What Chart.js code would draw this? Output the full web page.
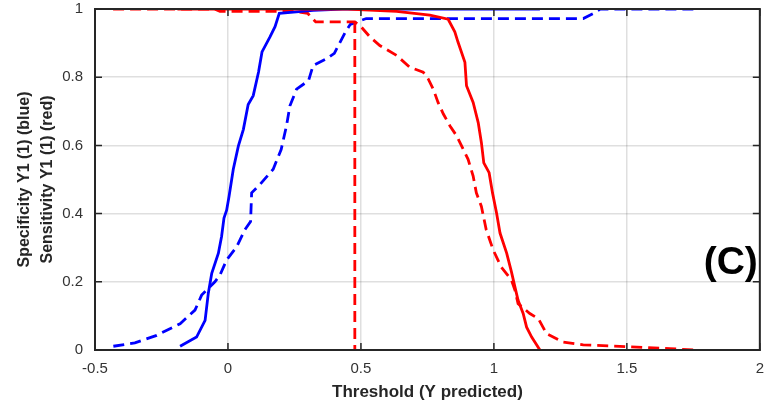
<!DOCTYPE html>
<html>
<head>
<meta charset="utf-8">
<script src="https://cdn.jsdelivr.net/npm/chart.js@4"></script>
<style>
  html, body { margin: 0; padding: 0; background: #fff; }
  #wrap { width: 774px; height: 412px; }
</style>
</head>
<body>
<div id="wrap"><canvas id="chart"></canvas></div>
<script>
// specificity (blue), solid model
const blueSolidX = [-0.18, -0.118, -0.086, -0.074, -0.061, -0.036, -0.024, -0.015, -0.005, 0.004, 0.014, 0.02, 0.039, 0.058, 0.076, 0.095, 0.115, 0.128, 0.158, 0.177, 0.193, 0.32, 0.43, 1.173];
const blueSolidY = [0.011, 0.038, 0.087, 0.166, 0.225, 0.284, 0.333, 0.387, 0.41, 0.45, 0.5, 0.53, 0.598, 0.647, 0.72, 0.746, 0.815, 0.874, 0.918, 0.948, 0.987, 0.996, 1, 1];
// specificity (blue), dashed model
const blueDashX = [-0.431, -0.35, -0.268, -0.18, -0.124, -0.099, -0.049, -0.03, -0.005, 0.033, 0.064, 0.085, 0.089, 0.12, 0.17, 0.2, 0.22, 0.233, 0.258, 0.303, 0.32, 0.37, 0.40, 0.44, 0.46, 0.52, 1.336, 1.374, 1.40, 1.75];
const blueDashY = [0.011, 0.021, 0.043, 0.077, 0.117, 0.161, 0.2, 0.22, 0.264, 0.303, 0.353, 0.377, 0.461, 0.485, 0.53, 0.588, 0.657, 0.716, 0.765, 0.79, 0.834, 0.854, 0.87, 0.93, 0.955, 0.972, 0.972, 0.987, 1, 1];
// sensitivity (red), solid model
const redSolidX = [-0.19, 0.45, 0.634, 0.759, 0.828, 0.853, 0.865, 0.891, 0.897, 0.922, 0.941, 0.953, 0.962, 0.982, 0.995, 1.01, 1.023, 1.048, 1.066, 1.079, 1.091, 1.11, 1.123, 1.142, 1.173];
const redSolidY = [1, 1, 0.993, 0.982, 0.970, 0.933, 0.903, 0.844, 0.775, 0.726, 0.667, 0.608, 0.549, 0.52, 0.46, 0.402, 0.343, 0.284, 0.229, 0.185, 0.146, 0.107, 0.067, 0.038, 0];
// sensitivity (red), dashed model
const redDashX = [-0.432, -0.05, -0.03, 0.25, 0.30, 0.33, 0.477, 0.496, 0.534, 0.571, 0.634, 0.684, 0.734, 0.753, 0.772, 0.79, 0.81, 0.835, 0.86, 0.885, 0.903, 0.922, 0.934, 0.953, 0.971, 0.997, 1.027, 1.066, 1.079, 1.091, 1.135, 1.167, 1.198, 1.26, 1.336, 1.5, 1.662, 1.75];
const redDashY = [1, 1, 0.993, 0.993, 0.987, 0.962, 0.962, 0.952, 0.918, 0.893, 0.864, 0.829, 0.815, 0.795, 0.765, 0.726, 0.692, 0.657, 0.628, 0.588, 0.559, 0.51, 0.461, 0.421, 0.353, 0.294, 0.244, 0.205, 0.176, 0.136, 0.107, 0.092, 0.048, 0.023, 0.015, 0.01, 0.004, 0];
// vertical threshold marker
const cutoffX = [0.477, 0.477];
const cutoffY = [0.962, 0];

const xTicks = [-0.5, 0, 0.5, 1, 1.5, 2];
const yTicks = [0, 0.2, 0.4, 0.6, 0.8, 1];

const pts = (xs, ys) => xs.map((x, i) => ({ x: x, y: ys[i] }));

const BLUE = '#0000ff';
const RED = '#ff0000';
const DARK = '#262626';
const FONT = '"Liberation Sans", Arial, Helvetica, sans-serif';
const DASH = [11, 6];

function line(data, color, dashed) {
    return {
        data: data,
        borderColor: color,
        borderWidth: 2.8,
        borderDash: dashed ? DASH : [],
        pointRadius: 0,
        showLine: true,
        tension: 0,
        fill: false
    };
}

// box frame, inward ticks and panel letter
const matlabBox = {
    id: 'matlabBox',
    afterDatasetsDraw(chart) {
        const { ctx, chartArea: a, scales } = chart;
        ctx.save();
        ctx.strokeStyle = DARK;
        ctx.lineWidth = 2;
        ctx.strokeRect(a.left, a.top, a.right - a.left, a.bottom - a.top);
        ctx.lineWidth = 1.5;
        ctx.beginPath();
        xTicks.forEach(v => {
            const px = scales.x.getPixelForValue(v);
            ctx.moveTo(px, a.bottom); ctx.lineTo(px, a.bottom - 7);
            ctx.moveTo(px, a.top); ctx.lineTo(px, a.top + 7);
        });
        yTicks.forEach(v => {
            const py = scales.y.getPixelForValue(v);
            ctx.moveTo(a.left, py); ctx.lineTo(a.left + 7, py);
            ctx.moveTo(a.right, py); ctx.lineTo(a.right - 7, py);
        });
        ctx.stroke();
        ctx.fillStyle = '#000';
        ctx.font = 'bold 39px ' + FONT;
        ctx.textAlign = 'right';
        ctx.textBaseline = 'middle';
        ctx.fillText('(C)', a.right - 2, scales.y.getPixelForValue(0.255));
        ctx.restore();
    }
};

new Chart(document.getElementById('chart'), {
    type: 'scatter',
    data: {
        datasets: [
            line(pts(redSolidX, redSolidY), RED, false),
            line(pts(blueSolidX, blueSolidY), BLUE, false),
            line(pts(redDashX, redDashY), RED, true),
            line(pts(cutoffX, cutoffY), RED, true),
            line(pts(blueDashX, blueDashY), BLUE, true)
        ]
    },
    options: {
        responsive: true,
        maintainAspectRatio: false,
        animation: false,
        layout: { padding: { left: 0, right: 14, top: 2, bottom: 0 } },
        plugins: {
            legend: { display: false },
            tooltip: { enabled: false }
        },
        scales: {
            x: {
                type: 'linear',
                min: -0.5,
                max: 2,
                afterBuildTicks(s) { s.ticks = xTicks.map(v => ({ value: v })); },
                afterFit(s) { s.height = 62; },
                grid: { color: 'rgba(38,38,38,0.15)', lineWidth: 1.5, drawTicks: false },
                border: { color: DARK, width: 2 },
                ticks: {
                    padding: 10,
                    color: '#333',
                    font: { family: FONT, size: 15 },
                    callback: v => String(v)
                },
                title: {
                    display: true,
                    text: 'Threshold (Y predicted)',
                    color: DARK,
                    font: { family: FONT, size: 17, weight: 'bold' },
                    padding: { top: 0, bottom: 9 }
                }
            },
            y: {
                type: 'linear',
                min: 0,
                max: 1,
                afterBuildTicks(s) { s.ticks = yTicks.map(v => ({ value: v })); },
                afterFit(s) { s.width = 95; },
                grid: {
                    color: 'rgba(38,38,38,0.15)',
                    lineWidth: 1.5,
                    drawTicks: true,
                    tickLength: 12,
                    tickColor: 'rgba(0,0,0,0)'
                },
                border: { color: DARK, width: 2 },
                ticks: {
                    padding: 0,
                    color: '#333',
                    font: { family: FONT, size: 15 },
                    callback: v => String(v)
                },
                title: {
                    display: true,
                    text: ['Specificity Y1 (1) (blue)', 'Sensitivity Y1 (1) (red)'],
                    color: DARK,
                    font: { family: FONT, size: 16, weight: 'bold', lineHeight: 1.45 },
                    padding: { top: 13, bottom: 0 }
                }
            }
        }
    },
    plugins: [matlabBox]
});
</script>
</body>
</html>
